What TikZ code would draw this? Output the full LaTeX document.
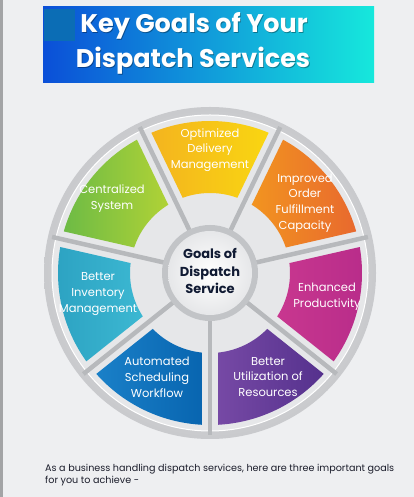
\documentclass[tikz,border=0pt]{standalone}
\usepackage{fontspec}
\setmainfont{Poppins}
\usetikzlibrary{positioning}

\definecolor{pagebg}{HTML}{EEEFF1}
\definecolor{edgegray}{HTML}{A3A4A6}
\definecolor{ringgray}{HTML}{C9CACD}
\definecolor{plategray}{HTML}{E6E7E9}
\definecolor{spokegray}{HTML}{B7B9BC}
\definecolor{hubring}{HTML}{C2C4C7}
\definecolor{hubtext}{HTML}{101A33}
\definecolor{bannerL}{HTML}{0B4FD8}
\definecolor{bannerM}{HTML}{1096DA}
\definecolor{bannerR}{HTML}{16E8DC}
\definecolor{squareblue}{HTML}{0B6DB5}
\definecolor{bodytext}{HTML}{1B1D2B}
% segment colours, two tones each
\definecolor{greenA}{HTML}{6DBB45}\definecolor{greenB}{HTML}{B0D236}
\definecolor{yellowA}{HTML}{F4B41F}\definecolor{yellowB}{HTML}{F9D611}
\definecolor{orangeA}{HTML}{F29420}\definecolor{orangeB}{HTML}{E8692E}
\definecolor{magentaA}{HTML}{C8378F}\definecolor{magentaB}{HTML}{B82C8A}
\definecolor{purpleA}{HTML}{7649A5}\definecolor{purpleB}{HTML}{55318D}
\definecolor{blueA}{HTML}{1A80C8}\definecolor{blueB}{HTML}{0865B0}
\definecolor{tealA}{HTML}{2CA2C2}\definecolor{tealB}{HTML}{3CB8D2}

\tikzset{
  titletext/.style={text=white, font=\bfseries\fontsize{25.5}{30}\selectfont, anchor=base, inner sep=0pt},
  titleshade/.style={text=black, opacity=0.35, font=\bfseries\fontsize{25.5}{30}\selectfont, anchor=base, inner sep=0pt},
  seglabel/.style={text=white, align=center, font=\fontsize{11.5}{15.8}\selectfont, inner sep=0pt},
  hublabel/.style={text=hubtext, align=center, font=\bfseries\fontsize{13}{17.5}\selectfont, inner sep=0pt},
  spoke/.style={spokegray, line width=4.5pt},
}

\begin{document}
\begin{tikzpicture}[x=1pt, y=1pt]
    \fill [pagebg] (0, 0) rectangle (414, 497);
    \useasboundingbox (0, 0) rectangle (414, 497);
    \fill [edgegray] (0, 0) rectangle (2.5, 497);

    % banner
    \shade [left color=bannerL, middle color=bannerM, right color=bannerR]
        (43, 414) rectangle (374, 490);
    \fill [squareblue] (44, 456) rectangle (75, 488);
    \node [titleshade] (titleAsh) at (194.8, 463.2) {Key Goals of Your};
    \node [titletext] (titleA) at (194, 464) {Key Goals of Your};
    \node [titleshade] (titleBsh) at (193.8, 428.2) {Dispatch Services};
    \node [titletext] (titleB) at (193, 429) {Dispatch Services};

    % wheel
    \begin{scope}[shift={(210, 224)}]
        \shade [inner color=ringgray!60, outer color=ringgray] (0, 0) circle (166);
        \fill [plategray] (0, 0) circle (158);
        \draw [white, line width=1pt] (0, 0) circle (158);
        \foreach \s in {115.71, 64.29, 12.86, -38.57, -90, -141.43, -192.86} {
            \draw [spoke] (\s:46) -- (\s:162);
        }
        \foreach \s/\ca/\cb in {115.71/yellowA/yellowB, 64.29/orangeA/orangeB,
                12.86/magentaA/magentaB, -38.57/purpleA/purpleB,
                -90/blueA/blueB, -141.43/tealA/tealB, -192.86/greenA/greenB} {
            \shade [left color=\ca, right color=\cb]
                (\s-5.74:80) -- (\s-3.02:152)
                arc [start angle=\s-3.02, end angle=\s-48.41, radius=152]
                -- (\s-45.69:80)
                arc [start angle=\s-45.69, end angle=\s-5.74, radius=80]
                -- cycle;
        }
        \fill [hubring] (0, 0) circle (48);
        \shade [inner color=white, outer color=plategray] (0, 0) circle (42);
    \end{scope}

    % labels
    \node [hublabel] (hub) at (210, 226) {Goals of\\Dispatch\\Service};
    \node [seglabel] (optimized) at (210, 347) {Optimized\\Delivery\\Management};
    \node [seglabel] (improved) at (305, 294) {Improved\\Order\\Fulfillment\\Capacity};
    \node [seglabel] (enhanced) at (327, 200) {Enhanced\\Productivity};
    \node [seglabel] (utilization) at (268, 120) {Better\\Utilization of\\Resources};
    \node [seglabel] (automated) at (157, 120) {Automated\\Scheduling\\Workflow};
    \node [seglabel] (inventory) at (98, 203) {Better\\Inventory\\Management};
    \node [seglabel] (centralized) at (112, 298) {Centralized\\System};

    \node [anchor=north west, align=left, text=bodytext, inner sep=0pt,
        font=\fontsize{9.6}{12}\selectfont] (intro) at (45, 33)
        {As a business handling dispatch services, here are three important goals\\for you to achieve -};
\end{tikzpicture}
\end{document}
